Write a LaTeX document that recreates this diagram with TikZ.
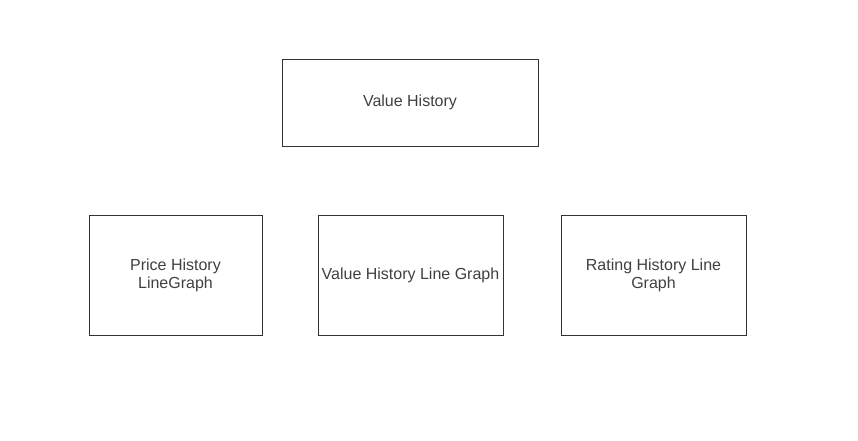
\documentclass[tikz,border=0pt]{standalone}
\usepackage{fontspec}
\setmainfont{Liberation Sans}
\definecolor{boxline}{HTML}{333333}
\definecolor{boxtext}{HTML}{404040}
\begin{document}
\begin{tikzpicture}[x=0.75pt,y=-0.75pt,
  box/.style={draw=boxline,line width=0.75pt,rectangle,inner sep=0pt,align=center,
    text=boxtext,font=\fontsize{12}{13.5}\selectfont}]
\useasboundingbox (0,0) rectangle (858,440);
\node[box,minimum width=256*0.75pt,minimum height=87*0.75pt] (vh) at (410,102.5) {Value History};
\node[box,minimum width=173*0.75pt,minimum height=120*0.75pt] (ph) at (175.5,275) {Price History\\LineGraph};
\node[box,minimum width=185*0.75pt,minimum height=120*0.75pt] (vhlg) at (410.5,275) {Value History Line Graph};
\node[box,minimum width=185*0.75pt,minimum height=120*0.75pt] (rh) at (653.5,275) {Rating History Line\\Graph};
\end{tikzpicture}
\end{document}
